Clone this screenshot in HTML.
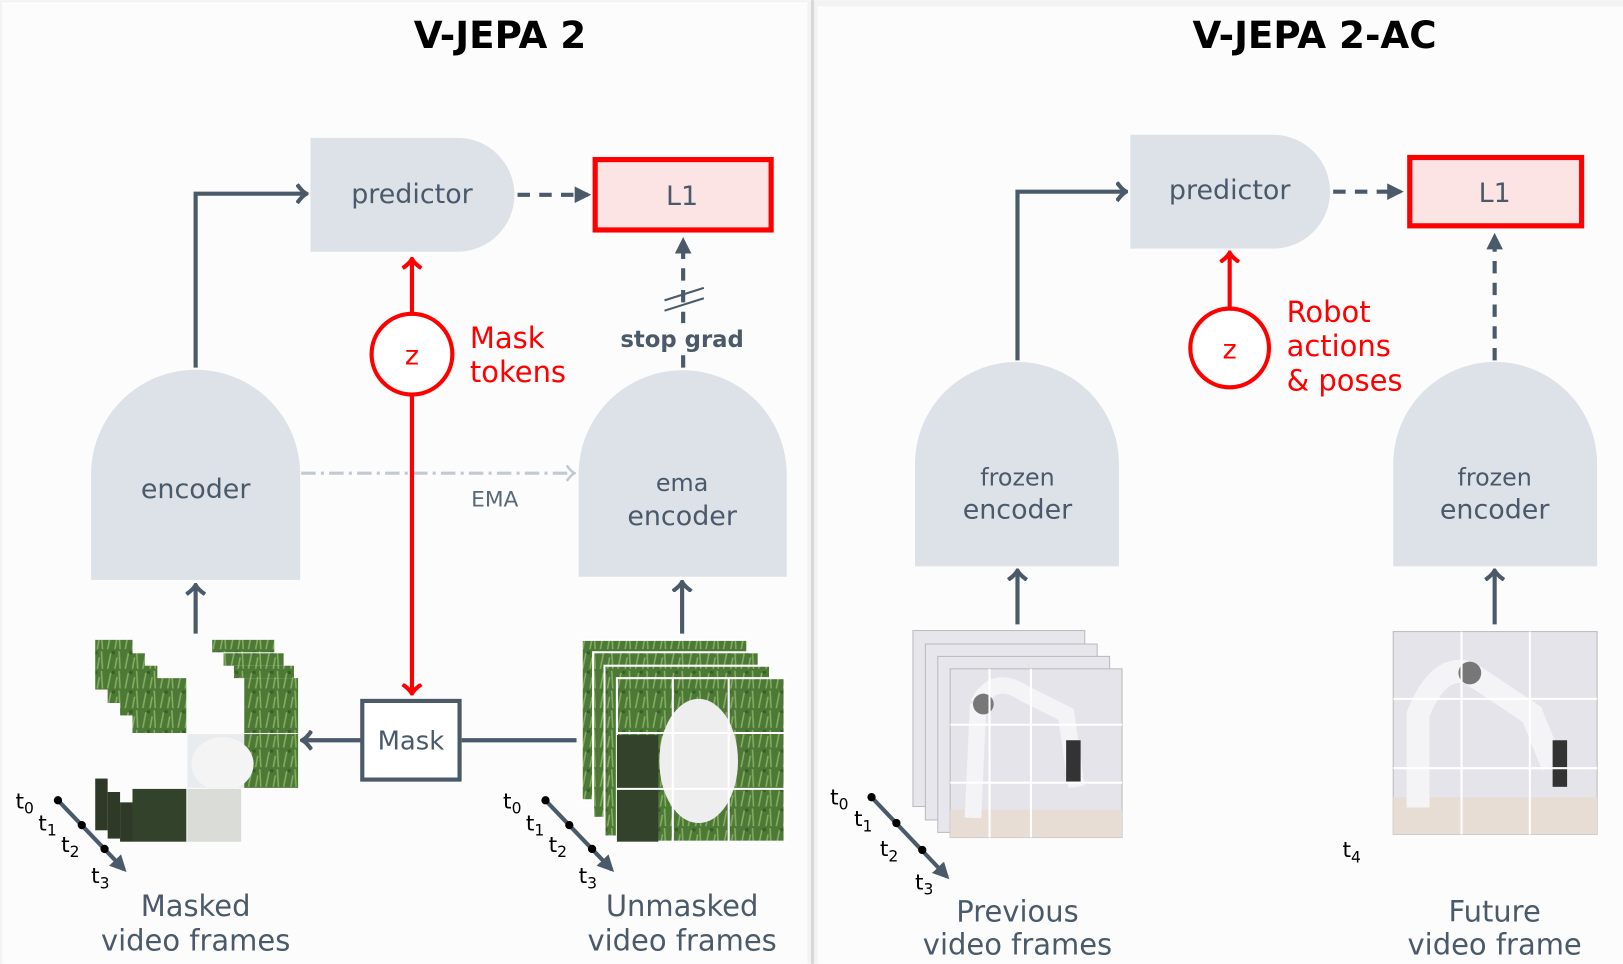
<!DOCTYPE html>
<html><head><meta charset="utf-8"><style>
html,body{margin:0;padding:0;background:#fff;}
svg{display:block;}
text{font-family:"DejaVu Sans","Liberation Sans",sans-serif;}
</style></head><body>
<svg width="1623" height="964" viewBox="0 0 1568 931" xmlns="http://www.w3.org/2000/svg">
<defs>
<marker id="oa" viewBox="0 0 12 20" refX="10" refY="10" markerWidth="12" markerHeight="20" markerUnits="userSpaceOnUse" orient="auto"><path d="M1,1 Q6,8 10,10 Q6,12 1,19" fill="none" stroke="#4a5a6a" stroke-width="4"/></marker>
<marker id="ra" viewBox="0 0 12 20" refX="10" refY="10" markerWidth="12" markerHeight="20" markerUnits="userSpaceOnUse" orient="auto"><path d="M1,1 Q6,8 10,10 Q6,12 1,19" fill="none" stroke="#f00" stroke-width="4"/></marker>
<marker id="fa" viewBox="0 0 10 10" refX="8" refY="5" markerWidth="16" markerHeight="16" markerUnits="userSpaceOnUse" orient="auto"><path d="M0,0 L10,5 L0,10 Z" fill="#4a5a6a"/></marker>
<marker id="ga" viewBox="0 0 12 20" refX="10" refY="10" markerWidth="10" markerHeight="18" markerUnits="userSpaceOnUse" orient="auto"><path d="M1,1 Q6,8 10,10 Q6,12 1,19" fill="none" stroke="#c3c9d2" stroke-width="3"/></marker>
<pattern id="grass" width="17" height="19" patternUnits="userSpaceOnUse"><rect width="17" height="19" fill="#4c7a36"/><path d="M2,19 L5,4 M9,19 L11,8 M14,19 L13,2" stroke="#86ad62" stroke-width="1.5"/><rect x="6" y="2" width="3" height="3" fill="#3a5e28"/></pattern>
</defs>
<rect width="1568" height="931" fill="#f3f3f3"/>
<rect x="2" y="2" width="778" height="929" fill="#fcfcfc"/>
<rect x="790" y="6" width="778" height="925" fill="#fcfcfc"/>
<line x1="785" y1="0" x2="785" y2="931" stroke="#d8d8d8" stroke-width="3"/>

<!-- LEFT -->
<text x="483" y="46" font-size="36" font-weight="bold" text-anchor="middle" fill="#000">V-JEPA 2</text>
<path d="M300,133 H442 A55,55 0 0 1 442,243 H300 Z" fill="#dde1e8"/>
<text x="398" y="196" font-size="26" text-anchor="middle" fill="#4a5a6a">predictor</text>
<line x1="500" y1="188" x2="568" y2="188" stroke="#4a5a6a" stroke-width="4" stroke-dasharray="12,9" marker-end="url(#fa)"/>
<rect x="575" y="154" width="170" height="68" fill="#fde4e4" stroke="#f00" stroke-width="5"/>
<text x="659" y="198" font-size="26" text-anchor="middle" fill="#4a5a6a">L1</text>
<line x1="660" y1="355" x2="660" y2="232" stroke="#4a5a6a" stroke-width="4" stroke-dasharray="12,9" marker-end="url(#fa)"/>
<line x1="642" y1="290" x2="680" y2="278" stroke="#4a5a6a" stroke-width="2"/>
<line x1="642" y1="300" x2="680" y2="288" stroke="#4a5a6a" stroke-width="2"/>
<rect x="600" y="312" width="120" height="26" fill="#fcfcfc"/>
<text x="659" y="335" font-size="22" font-weight="bold" text-anchor="middle" fill="#4a5a6a">stop grad</text>

<path d="M88,560 V458 A101,101 0 0 1 290,458 V560 Z" fill="#dde1e8"/>
<text x="189" y="481" font-size="26" text-anchor="middle" fill="#4a5a6a">encoder</text>
<path d="M559,557 V458 A100.5,100.5 0 0 1 760,458 V557 Z" fill="#dde1e8"/>
<text x="659" y="474" font-size="23" text-anchor="middle" fill="#4a5a6a">ema</text>
<text x="659" y="507" font-size="26" text-anchor="middle" fill="#4a5a6a">encoder</text>
<path d="M189,355 V187 H296" fill="none" stroke="#4a5a6a" stroke-width="4" marker-end="url(#oa)"/>
<line x1="291" y1="457" x2="555" y2="457" stroke="#c3c9d2" stroke-width="3" stroke-dasharray="14,5,3,5" marker-end="url(#ga)"/>
<text x="478" y="489" font-size="21" font-family="Liberation Serif,serif" text-anchor="middle" fill="#5a6a7a">EMA</text>

<circle cx="398" cy="342" r="39" fill="#fff" stroke="#f00" stroke-width="4"/>
<text x="398" y="352" font-size="26" text-anchor="middle" fill="#f00">z</text>
<line x1="398" y1="302" x2="398" y2="250" stroke="#f00" stroke-width="4" marker-end="url(#ra)"/>
<line x1="398" y1="382" x2="398" y2="670" stroke="#f00" stroke-width="4" marker-end="url(#ra)"/>
<text x="454" y="336" font-size="28" fill="#f00">Mask</text>
<text x="454" y="369" font-size="28" fill="#f00">tokens</text>

<rect x="350" y="677" width="94" height="76" fill="#fff" stroke="#4a5a6a" stroke-width="4"/>
<text x="397" y="724" font-size="25" text-anchor="middle" fill="#4a5a6a">Mask</text>
<line x1="557" y1="715" x2="446" y2="715" stroke="#4a5a6a" stroke-width="4"/>
<line x1="349" y1="715" x2="292" y2="715" stroke="#4a5a6a" stroke-width="4" marker-end="url(#oa)"/>
<line x1="189" y1="612" x2="189" y2="565" stroke="#4a5a6a" stroke-width="4" marker-end="url(#oa)"/>
<line x1="659" y1="612" x2="659" y2="562" stroke="#4a5a6a" stroke-width="4" marker-end="url(#oa)"/>

<!-- masked frames -->
<g>
<rect x="92" y="618" width="36" height="48" fill="url(#grass)"/><rect x="205" y="618" width="60" height="12" fill="url(#grass)"/>
<rect x="104" y="631" width="36" height="48" fill="url(#grass)"/><rect x="216" y="631" width="58" height="12" fill="url(#grass)"/>
<rect x="116" y="643" width="36" height="48" fill="url(#grass)"/><rect x="226" y="643" width="58" height="12" fill="url(#grass)"/>
<rect x="128" y="655" width="52" height="53" fill="url(#grass)"/><rect x="236" y="655" width="52" height="53" fill="url(#grass)"/>
<rect x="181" y="709" width="55" height="52" fill="#e9ecef"/><rect x="236" y="709" width="52" height="52" fill="url(#grass)"/>
<ellipse cx="215" cy="738" rx="30" ry="26" fill="#f4f4f4"/>
<rect x="92" y="752" width="12" height="50" fill="#2e3a27"/><rect x="104" y="765" width="12" height="45" fill="#2e3a27"/><rect x="116" y="775" width="12" height="38" fill="#2e3a27"/>
<rect x="128" y="762" width="52" height="51" fill="#33432b"/><rect x="181" y="762" width="52" height="51" fill="#d9dcd7"/>
</g>
<!-- unmasked frames -->
<g>
<rect x="562" y="618" width="160" height="155" fill="url(#grass)" stroke="#fff" stroke-width="2"/>
<rect x="573" y="630" width="160" height="160" fill="url(#grass)" stroke="#fff" stroke-width="2"/>
<rect x="584" y="643" width="160" height="165" fill="url(#grass)" stroke="#fff" stroke-width="2"/>
<rect x="596" y="655" width="162" height="158" fill="url(#grass)" stroke="#fff" stroke-width="2"/>
<rect x="596" y="710" width="40" height="103" fill="#33432b"/>
<ellipse cx="675" cy="735" rx="38" ry="60" fill="#eeeeee"/>
<path d="M650,655 V813 M704,655 V813 M596,708 H758 M596,762 H758" stroke="#fff" stroke-width="2"/>
</g>

<g font-size="21" fill="#000">
<text x="15" y="781">t<tspan font-size="15" dy="5">0</tspan></text>
<text x="37" y="802">t<tspan font-size="15" dy="5">1</tspan></text>
<text x="59" y="823">t<tspan font-size="15" dy="5">2</tspan></text>
<text x="88" y="853">t<tspan font-size="15" dy="5">3</tspan></text>
<text x="486" y="781">t<tspan font-size="15" dy="5">0</tspan></text>
<text x="508" y="802">t<tspan font-size="15" dy="5">1</tspan></text>
<text x="530" y="823">t<tspan font-size="15" dy="5">2</tspan></text>
<text x="559" y="853">t<tspan font-size="15" dy="5">3</tspan></text>
<text x="802" y="777">t<tspan font-size="15" dy="5">0</tspan></text>
<text x="825" y="798">t<tspan font-size="15" dy="5">1</tspan></text>
<text x="850" y="827">t<tspan font-size="15" dy="5">2</tspan></text>
<text x="884" y="859">t<tspan font-size="15" dy="5">3</tspan></text>
<text x="1297" y="828">t<tspan font-size="15" dy="5">4</tspan></text>
</g>
<g stroke="#4a5a6a" stroke-width="4" fill="#000">
<line x1="56" y1="773" x2="120" y2="840" marker-end="url(#fa)"/>
<circle cx="56" cy="773" r="4" stroke="none"/><circle cx="79" cy="797" r="4" stroke="none"/><circle cx="101" cy="820" r="4" stroke="none"/>
<line x1="527" y1="773" x2="591" y2="840" marker-end="url(#fa)"/>
<circle cx="527" cy="773" r="4" stroke="none"/><circle cx="550" cy="797" r="4" stroke="none"/><circle cx="572" cy="820" r="4" stroke="none"/>
<line x1="842" y1="770" x2="915" y2="847" marker-end="url(#fa)"/>
<circle cx="842" cy="770" r="4" stroke="none"/><circle cx="866" cy="795" r="4" stroke="none"/><circle cx="891" cy="821" r="4" stroke="none"/>
</g>
<g font-size="28" fill="#4a5a6a" text-anchor="middle">
<text x="189" y="885">Masked</text><text x="189" y="918">video frames</text>
<text x="659" y="885">Unmasked</text><text x="659" y="918">video frames</text>
<text x="983" y="890">Previous</text><text x="983" y="922">video frames</text>
<text x="1444" y="890">Future</text><text x="1444" y="922">video frame</text>
</g>

<!-- RIGHT -->
<text x="1270" y="46" font-size="36" font-weight="bold" text-anchor="middle" fill="#000">V-JEPA 2-AC</text>
<path d="M1092,130 H1230 A55,55 0 0 1 1230,240 H1092 Z" fill="#dde1e8"/>
<text x="1188" y="192" font-size="26" text-anchor="middle" fill="#4a5a6a">predictor</text>
<line x1="1288" y1="185" x2="1353" y2="185" stroke="#4a5a6a" stroke-width="4" stroke-dasharray="12,9" marker-end="url(#fa)"/>
<rect x="1362" y="152" width="166" height="66" fill="#fde4e4" stroke="#f00" stroke-width="5"/>
<text x="1444" y="195" font-size="26" text-anchor="middle" fill="#4a5a6a">L1</text>
<line x1="1444" y1="348" x2="1444" y2="228" stroke="#4a5a6a" stroke-width="4" stroke-dasharray="12,9" marker-end="url(#fa)"/>
<path d="M884,547 V448 A98.5,98.5 0 0 1 1081,448 V547 Z" fill="#dde1e8"/>
<text x="983" y="469" font-size="23" text-anchor="middle" fill="#4a5a6a">frozen</text>
<text x="983" y="501" font-size="26" text-anchor="middle" fill="#4a5a6a">encoder</text>
<path d="M1346,547 V448 A98.5,98.5 0 0 1 1543,448 V547 Z" fill="#dde1e8"/>
<text x="1444" y="469" font-size="23" text-anchor="middle" fill="#4a5a6a">frozen</text>
<text x="1444" y="501" font-size="26" text-anchor="middle" fill="#4a5a6a">encoder</text>
<path d="M983,348 V185 H1088" fill="none" stroke="#4a5a6a" stroke-width="4" marker-end="url(#oa)"/>
<circle cx="1188" cy="336" r="38" fill="#fff" stroke="#f00" stroke-width="4"/>
<text x="1188" y="346" font-size="26" text-anchor="middle" fill="#f00">z</text>
<line x1="1188" y1="297" x2="1188" y2="244" stroke="#f00" stroke-width="4" marker-end="url(#ra)"/>
<text x="1243" y="311" font-size="28" fill="#f00">Robot</text>
<text x="1243" y="344" font-size="28" fill="#f00">actions</text>
<text x="1243" y="377" font-size="28" fill="#f00">&amp; poses</text>
<line x1="983" y1="603" x2="983" y2="551" stroke="#4a5a6a" stroke-width="4" marker-end="url(#oa)"/>
<line x1="1444" y1="603" x2="1444" y2="551" stroke="#4a5a6a" stroke-width="4" marker-end="url(#oa)"/>

<g stroke="#bbb" stroke-width="1">
<rect x="882" y="609" width="166" height="170" fill="#e6e6ec"/>
<rect x="894" y="622" width="166" height="170" fill="#e6e6ec"/>
<rect x="906" y="634" width="166" height="170" fill="#e6e6ec"/>
<rect x="918" y="646" width="166" height="163" fill="#e4e4ea"/>
</g>
<rect x="918" y="782" width="166" height="27" fill="#e8ddd5"/>
<path d="M945,680 Q960,650 990,670 L1030,690 L1040,760 M945,680 L940,790" stroke="#f4f4f6" stroke-width="16" fill="none"/>
<circle cx="950" cy="680" r="10" fill="#777"/><rect x="1030" y="715" width="14" height="40" fill="#333"/>
<path d="M956,646 V809 M996,646 V809 M918,700 H1084 M918,756 H1084" stroke="#fff" stroke-width="2"/>
<rect x="1346" y="610" width="197" height="196" fill="#e4e4ea" stroke="#bbb" stroke-width="1"/>
<rect x="1346" y="770" width="197" height="36" fill="#e8ddd5"/>
<path d="M1370,780 L1370,690 Q1390,640 1420,650 L1480,690 L1500,740" stroke="#f4f4f6" stroke-width="22" fill="none"/>
<circle cx="1420" cy="650" r="11" fill="#777"/><rect x="1500" y="715" width="14" height="45" fill="#333"/>
<path d="M1412,610 V806 M1478,610 V806 M1346,675 H1543 M1346,742 H1543" stroke="#fff" stroke-width="2"/>
</svg>
</body></html>
